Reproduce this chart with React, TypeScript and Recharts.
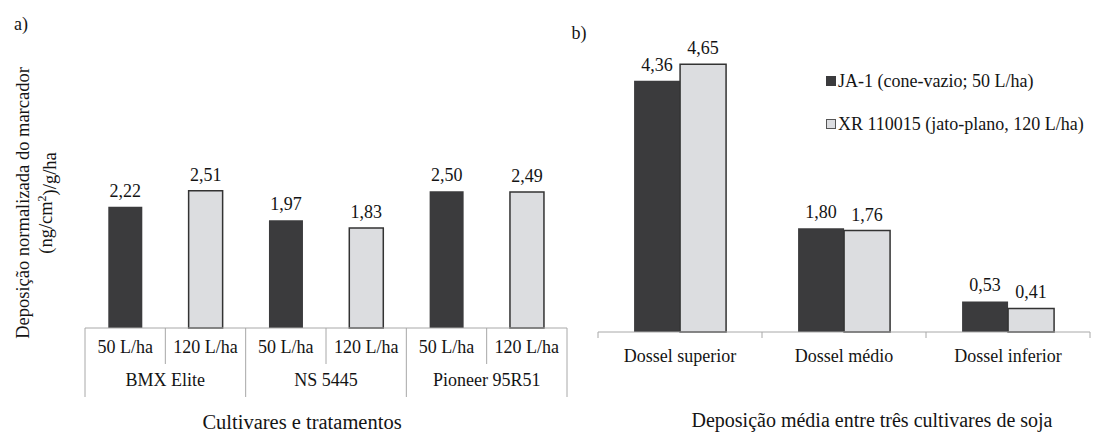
import React from "react";
import { BarChart, Bar, XAxis, YAxis, LabelList, Cell, Legend } from "recharts";

// a) deposition per cultivar and spray volume
const treatments = ["50 L/ha", "120 L/ha", "50 L/ha", "120 L/ha", "50 L/ha", "120 L/ha"];
const cultivars = ["BMX Elite", "NS 5445", "Pioneer 95R51"];
const cultivarDeposition = [2.22, 2.51, 1.97, 1.83, 2.5, 2.49];

// b) mean deposition per canopy layer
const canopyLayers = ["Dossel superior", "Dossel médio", "Dossel inferior"];
const ja1Deposition = [4.36, 1.8, 0.53];
const xrDeposition = [4.65, 1.76, 0.41];
const seriesNames = ["JA-1 (cone-vazio; 50 L/ha)", "XR 110015 (jato-plano, 120 L/ha)"];

const FONT = '"Liberation Serif", "Times New Roman", serif';
const DARK = "#3b3b3d";
const LIGHT = "#dcdde0";
const LINE = "#a8a8a8";
const INK = "#141414";
const FS = 18;

const LEFT_SLOT = 482 / 6;
const RIGHT_SLOT = 492 / 3;

const comma = (v: any) => Number(v).toFixed(2).replace(".", ",");

const leftData = treatments.map((t, i) => ({ treatment: t, value: cultivarDeposition[i] }));
const rightData = canopyLayers.map((c, i) => ({ layer: c, ja1: ja1Deposition[i], xr: xrDeposition[i] }));

function TreatmentTick({ x, y, index, payload }: any) {
  const half = LEFT_SLOT / 2;
  const groupStart = index % 2 === 0;
  return (
    <g>
      <line x1={x - half} x2={x - half} y1={y} y2={y + (groupStart ? 69 : 36)} stroke={LINE} />
      {index === treatments.length - 1 && (
        <line x1={x + half} x2={x + half} y1={y} y2={y + 69} stroke={LINE} />
      )}
      <text x={x} y={y + 19} dy="0.35em" textAnchor="middle" fill={INK} fontSize={FS} fontFamily={FONT}>
        {payload.value}
      </text>
      {!groupStart && (
        <text x={x - half} y={y + 52} dy="0.35em" textAnchor="middle" fill={INK} fontSize={FS} fontFamily={FONT}>
          {cultivars[Math.floor(index / 2)]}
        </text>
      )}
    </g>
  );
}

function CanopyTick({ x, y, index, payload }: any) {
  const half = RIGHT_SLOT / 2;
  return (
    <g>
      <line x1={x - half} x2={x - half} y1={y} y2={y + 6} stroke={LINE} />
      {index === canopyLayers.length - 1 && (
        <line x1={x + half} x2={x + half} y1={y} y2={y + 6} stroke={LINE} />
      )}
      <text x={x} y={y + 24} dy="0.35em" textAnchor="middle" fill={INK} fontSize={FS} fontFamily={FONT}>
        {payload.value}
      </text>
    </g>
  );
}

function CanopyLegend() {
  const colors = [DARK, LIGHT];
  return (
    <div style={{ fontFamily: FONT, fontSize: FS, color: INK }}>
      {seriesNames.map((name, i) => (
        <div key={name} style={{ display: "flex", alignItems: "center", height: 22, marginBottom: 21 }}>
          <span
            style={{
              width: 8,
              height: 8,
              background: colors[i],
              border: `1px solid ${i === 0 ? DARK : "#555"}`,
              marginRight: 2,
            }}
          />
          <span style={{ whiteSpace: "nowrap" }}>{name}</span>
        </div>
      ))}
    </div>
  );
}

export default function App() {
  return (
    <div style={{ position: "absolute", left: 0, top: 0, width: 1102, height: 432, background: "#fff" }}>
      <div style={{ position: "absolute", left: 0, top: 0 }}>
        <BarChart
          width={580}
          height={432}
          data={leftData}
          margin={{ top: 164, right: 13, bottom: 0, left: 85 }}
          barCategoryGap="29%"
        >
          <YAxis hide width={0} domain={[0, 3]} />
          <XAxis
            dataKey="treatment"
            height={104}
            interval={0}
            tickLine={false}
            tickSize={0}
            tickMargin={0}
            axisLine={{ stroke: LINE }}
            tick={(p: any) => <TreatmentTick {...p} />}
            label={{ value: "Cultivares e tratamentos", position: "insideBottom", offset: 3, dx: -24, fill: INK, fontSize: 20.5, fontFamily: FONT }}
          />
          <Bar dataKey="value" isAnimationActive={false}>
            {leftData.map((d, i) => (
              <Cell key={i} fill={i % 2 === 0 ? DARK : LIGHT} stroke={i % 2 === 0 ? DARK : "#333"} strokeWidth={i % 2 === 0 ? 0 : 1.5} />
            ))}
            <LabelList dataKey="value" position="top" offset={10} formatter={comma} fill={INK} fontSize={FS} fontFamily={FONT} />
          </Bar>
        </BarChart>
      </div>

      <div style={{ position: "absolute", left: 560, top: 0 }}>
        <BarChart
          width={542}
          height={432}
          data={rightData}
          margin={{ top: 44, right: 12, bottom: 0, left: 38 }}
          barCategoryGap="22%"
          barGap={0}
        >
          <YAxis hide width={0} domain={[0, 5]} />
          <XAxis
            dataKey="layer"
            height={100}
            interval={0}
            tickLine={false}
            tickSize={0}
            tickMargin={0}
            axisLine={{ stroke: LINE }}
            tick={(p: any) => <CanopyTick {...p} />}
            label={{ value: "Deposição média entre três cultivares de soja", position: "insideBottom", offset: 5, dx: 28, fill: INK, fontSize: 20, fontFamily: FONT }}
          />
          <Legend
            layout="horizontal"
            verticalAlign="middle"
            align="center"
            content={() => <CanopyLegend />}
            wrapperStyle={{ left: 266, top: 70, width: 300 }}
          />
          <Bar dataKey="ja1" name={seriesNames[0]} fill={DARK} isAnimationActive={false}>
            <LabelList dataKey="ja1" position="top" offset={10} formatter={comma} fill={INK} fontSize={FS} fontFamily={FONT} />
          </Bar>
          <Bar dataKey="xr" name={seriesNames[1]} fill={LIGHT} stroke="#333" strokeWidth={1.5} isAnimationActive={false}>
            <LabelList dataKey="xr" position="top" offset={10} formatter={comma} fill={INK} fontSize={FS} fontFamily={FONT} />
          </Bar>
        </BarChart>
      </div>

      <svg width={1102} height={432} style={{ position: "absolute", left: 0, top: 0, pointerEvents: "none" }}>
        <g fill={INK} fontSize={FS} fontFamily={FONT}>
          <text x={21} y={24} dy="0.35em" textAnchor="middle">a)</text>
          <text x={579} y={33} dy="0.35em" textAnchor="middle">b)</text>
          <text x={23} y={203} dy="0.35em" textAnchor="middle" fontSize={18.5} transform="rotate(-90 23 203)">
            Deposição normalizada do marcador
          </text>
          <text x={46} y={203} dy="0.35em" textAnchor="middle" fontSize={18.5} transform="rotate(-90 46 203)">
            (ng/cm<tspan fontSize={12} dy="-0.5em">2</tspan>
            <tspan dy="0.5em">)/g/ha</tspan>
          </text>
        </g>
      </svg>
    </div>
  );
}
